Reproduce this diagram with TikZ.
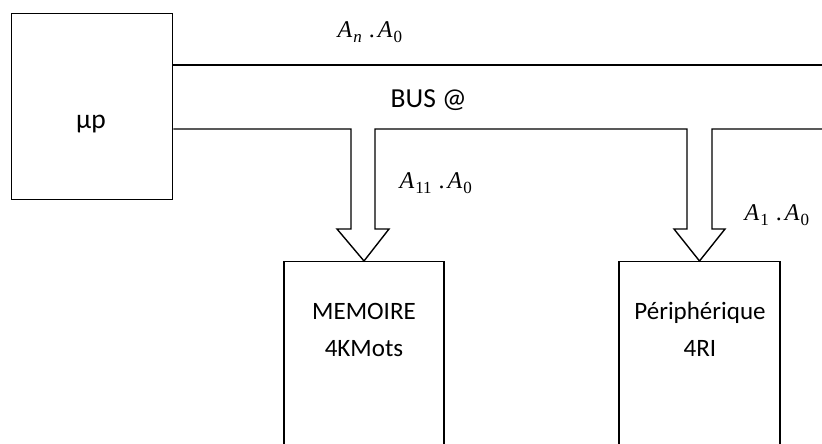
\documentclass[tikz,border=0pt]{standalone}
\usepackage{fontspec}
\setmainfont{Carlito}
\newfontfamily\mathserif{Liberation Serif}
\usetikzlibrary{calc}
\newcommand{\subs}[1]{\raisebox{-5pt}{\fontsize{17}{20}\selectfont #1}}
\newcommand{\addr}[1]{{\mathserif\fontsize{24}{28}\selectfont
  \itshape A\kern1pt\subs{#1}\hspace{7pt}\upshape.\hspace{3pt}\itshape A\kern1pt\subs{\upshape 0}}}
\begin{document}
\begin{tikzpicture}[x=1pt,y=-1pt, line width=1.4pt, line join=miter,
  box/.style={draw, line width=1.4pt, rectangle, inner sep=0pt},
  lbl/.style={font=\fontsize{25}{30}\selectfont, inner sep=0pt},
  biglbl/.style={font=\fontsize{27.5}{32}\selectfont, inner sep=0pt},
  mathlbl/.style={inner sep=0pt, anchor=base west}]
\useasboundingbox (0,0) rectangle (822,444);
\clip (0,0) rectangle (822,444);
% blocks
\node[box, minimum width=161, minimum height=186, anchor=north west] (up) at (11,13) {};
\node[biglbl, anchor=base] (uptext) at (91,128) {µp};
\node[box, minimum width=160, minimum height=220, anchor=north] (mem) at (364,261) {};
\node[box, minimum width=161, minimum height=220, anchor=north] (per) at (699.5,261) {};
\node[lbl, anchor=base] (memt1) at (364,319) {MEMOIRE};
\node[lbl, anchor=base] (memt2) at (364,356) {4KMots};
\node[lbl, anchor=base] (pert1) at (700,319) {Périphérique};
\node[lbl, anchor=base] (pert2) at (700,356) {4RI};
% bus
\draw (up.east |- 0,65) -- (830,65);
\draw (up.east |- 0,129) -- (351,129) -- (351,229) -- (337,229) -- (mem.north)
      -- (389,229) -- (375,229) -- (375,129) -- (687,129) -- (687,229) -- (674,229)
      -- (per.north) -- (725,229) -- (712,229) -- (712,129) -- (830,129);
% labels
\node[mathlbl] (an) at (337,38) {\addr{n}};
\node[biglbl, anchor=base west] (bus) at (390,107) {BUS @};
\begin{scope}
  \clip (390,150) rectangle (487,205);
  \node[mathlbl] (a11) at (399,188) {\addr{\upshape 11}};
\end{scope}
\node[mathlbl] (a1) at (744,220) {\addr{\upshape 1}};
\end{tikzpicture}
\end{document}
